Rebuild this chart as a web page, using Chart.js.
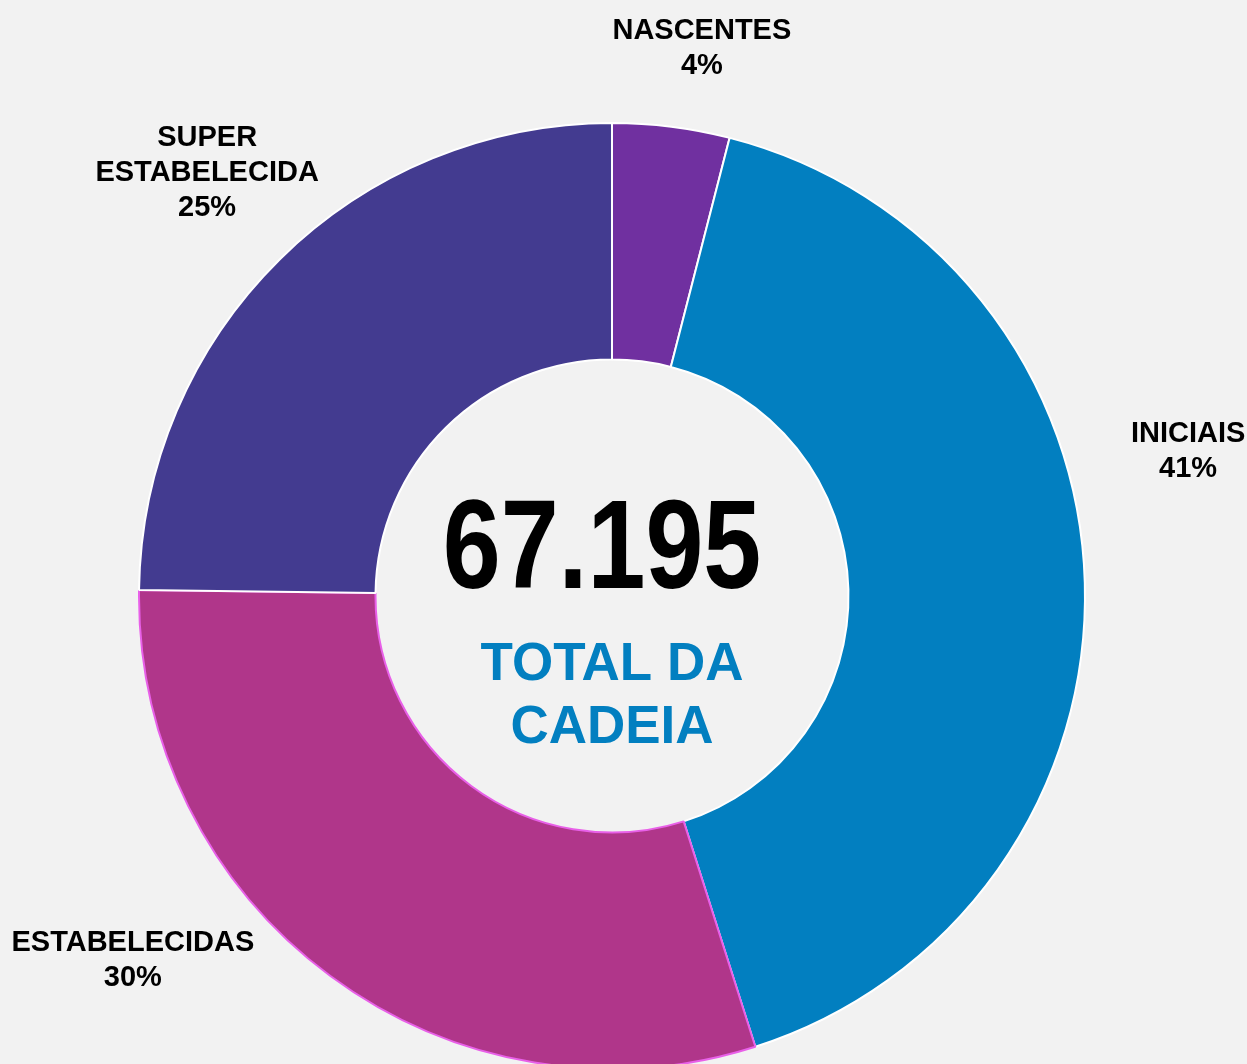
<!DOCTYPE html>
<html>
<head>
<meta charset="utf-8">
<script src="https://cdn.jsdelivr.net/npm/chart.js@4.4.0/dist/chart.umd.min.js"></script>
<style>
    html, body { margin: 0; padding: 0; background: #f2f2f2; overflow: hidden; }
    #wrap { position: relative; width: 1247px; height: 1072px; }
</style>
</head>
<body>
<div id="wrap"><canvas id="donutChart"></canvas></div>
<script>
// Data
const categories = ['NASCENTES', 'INICIAIS', 'ESTABELECIDAS', 'SUPER ESTABELECIDA'];
const shares = [4.0, 41.1, 30.1, 24.8];
const labelLines = [['NASCENTES'], ['INICIAIS'], ['ESTABELECIDAS'], ['SUPER', 'ESTABELECIDA']];
const totalText = '67.195';
const totalCaption = ['TOTAL DA', 'CADEIA'];

const sliceColors = ['#7030a0', '#027fc0', '#b0368a', '#433b90'];
const sliceBorders = ['#ffffff', '#ffffff', '#e860e8', '#ffffff'];

// label anchors, as fractions of the outer radius from the centre
const labelAnchors = [
    { fx: 0.19, fy: -1.178 },
    { fx: 1.218, fy: -0.326 },
    { fx: -1.013, fy: 0.75 },
    { fx: -0.856, fy: -0.951 }
];

const donutText = {
    id: 'donutText',
    afterDraw(chart) {
        const arc = chart.getDatasetMeta(0).data[0];
        if (!arc) return;
        const cx = arc.x, cy = arc.y, R = arc.outerRadius;
        const ctx = chart.ctx;
        ctx.save();
        ctx.textAlign = 'center';
        ctx.textBaseline = 'alphabetic';

        // outside labels
        ctx.fillStyle = '#000000';
        ctx.font = 'bold 29px "Liberation Sans", Arial, sans-serif';
        labelLines.forEach((lines, i) => {
            const a = labelAnchors[i];
            const x = cx + a.fx * R;
            let y = cy + a.fy * R;
            lines.concat([Math.round(shares[i]) + '%']).forEach(line => {
                ctx.fillText(line, x, y);
                y += 35;
            });
        });

        // big total, condensed
        ctx.save();
        ctx.translate(cx - 10, cy - 8);
        ctx.scale(0.82, 1);
        ctx.font = 'bold 127px "Liberation Sans", Arial, sans-serif';
        ctx.fillText(totalText, 0, 0);
        ctx.restore();

        // caption
        ctx.fillStyle = '#027fc0';
        ctx.font = 'bold 53px "Liberation Sans", Arial, sans-serif';
        ctx.fillText(totalCaption[0], cx, cy + 84);
        ctx.fillText(totalCaption[1], cx, cy + 147);
        ctx.restore();
    }
};

new Chart(document.getElementById('donutChart'), {
    type: 'doughnut',
    data: {
        labels: categories,
        datasets: [{
            data: shares,
            backgroundColor: sliceColors,
            borderColor: sliceBorders,
            borderWidth: 2
        }]
    },
    options: {
        responsive: true,
        maintainAspectRatio: false,
        animation: false,
        cutout: '50%',
        layout: { padding: { left: 138, right: 161, top: 122, bottom: 2 } },
        plugins: {
            legend: { display: false },
            tooltip: { enabled: false }
        }
    },
    plugins: [donutText]
});
</script>
</body>
</html>
